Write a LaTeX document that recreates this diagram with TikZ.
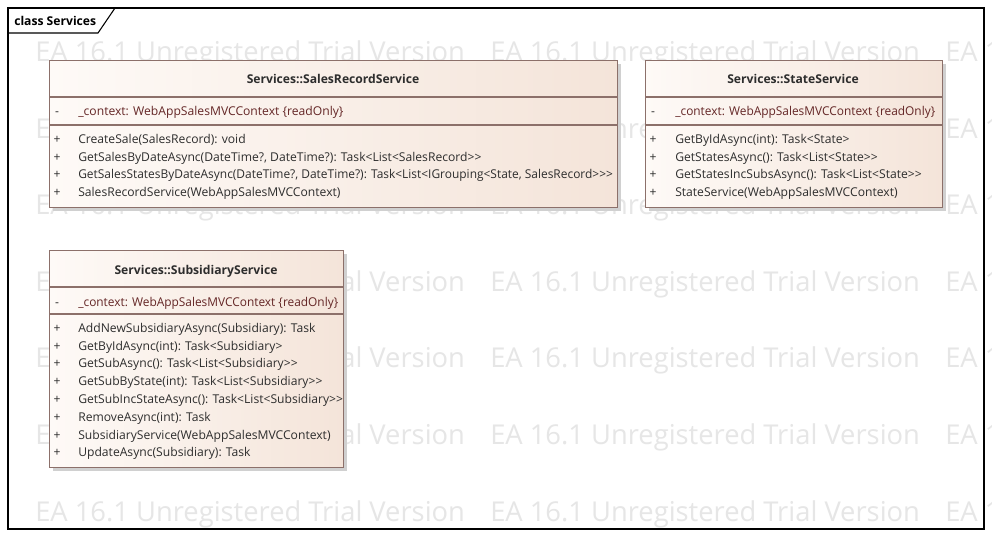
\documentclass[tikz,border=0pt]{standalone}
\usepackage{fontspec}
\setmainfont{Open Sans}
\definecolor{boxline}{RGB}{140,112,106}
\definecolor{fillL}{RGB}{254,250,247}
\definecolor{fillR}{RGB}{244,228,217}
\definecolor{shadowc}{RGB}{208,208,208}
\definecolor{attrc}{RGB}{100,38,38}
\definecolor{opc}{RGB}{45,45,45}
\definecolor{wmark}{RGB}{230,230,230}
\newcommand{\tf}{\fontsize{9.1pt}{10pt}\selectfont}
\tikzset{
  px/.style={x=0.75pt,y=-0.75pt},
  wm/.style={anchor=base west,inner sep=0pt,text=wmark,font=\fontsize{20.5pt}{21pt}\selectfont},
  classbox/.style={draw=boxline,line width=0.9pt,left color=fillL,right color=fillR,shading angle=90,inner sep=0pt,anchor=north west},
  shadowbox/.style={fill=shadowc,draw=none,inner sep=0pt,anchor=north west},
  hdr/.style={anchor=base,inner sep=0pt,text=opc,font=\tf\bfseries},
  attr/.style={anchor=base west,inner sep=0pt,text=attrc,font=\tf},
  oper/.style={anchor=base west,inner sep=0pt,text=opc,font=\tf},
  vis/.style={anchor=base,inner sep=0pt,text=opc,font=\tf},
  sep/.style={draw=boxline,line width=0.9pt},
  frame/.style={draw=black,line width=0.8pt}
}
\begin{document}
\begin{tikzpicture}[px]
\useasboundingbox (0,0) rectangle (992,537);
\fill[white] (0,0) rectangle (992,537);
% watermark
\begin{scope}
\clip (0,0) rectangle (992,537);
\foreach \yy in {61,138,214,291,367,444,521}{
  \foreach \xx in {35,490,945}{
    \node[wm] at (\xx,\yy) {EA 16.1 Unregistered Trial Version};
  }
}
\end{scope}
% frame
\draw[frame] (8,8) rectangle (984,529);
\draw[frame] (8,33) -- (98,33) -- (115,8);
\node[anchor=base west,inner sep=0pt,font=\tf\bfseries] (title) at (14,25) {class Services};

% ---------- SalesRecordService ----------
\node[shadowbox,minimum width=568*0.75pt,minimum height=147*0.75pt] (srsS) at (53,64) {};
\node[classbox,minimum width=568*0.75pt,minimum height=147*0.75pt] (srs) at (49,60) {};
\draw[sep] (49,97) -- (617,97);
\draw[sep] (49,125) -- (617,125);
\node[hdr] (srsH) at (333,83) {Services::SalesRecordService};
\node[vis] at (57,115) {-};
\node[attr] (srsA) at (78,115) {\_context: WebAppSalesMVCContext \{readOnly\}};
\node[vis] at (57,143) {+};
\node[oper] (srs1) at (78,143) {CreateSale(SalesRecord): void};
\node[vis] at (57,161) {+};
\node[oper] (srs2) at (78,161) {GetSalesByDateAsync(DateTime?, DateTime?): Task<List<SalesRecord>{}>};
\node[vis] at (57,178) {+};
\node[oper] (srs3) at (78,178) {\scalebox{0.985}[1]{GetSalesStatesByDateAsync(DateTime?, DateTime?): Task<List<IGrouping<State, SalesRecord>{}>{}>}};
\node[vis] at (57,196) {+};
\node[oper] (srs4) at (78,196) {SalesRecordService(WebAppSalesMVCContext)};

% ---------- StateService ----------
\node[shadowbox,minimum width=297*0.75pt,minimum height=147*0.75pt] (ssS) at (649,64) {};
\node[classbox,minimum width=297*0.75pt,minimum height=147*0.75pt] (ss) at (645,60) {};
\draw[sep] (645,97) -- (942,97);
\draw[sep] (645,125) -- (942,125);
\node[hdr] (ssH) at (793,83) {Services::StateService};
\node[vis] at (653,115) {-};
\node[attr] (ssA) at (675,115) {\scalebox{0.98}[1]{\_context: WebAppSalesMVCContext \{readOnly\}}};
\node[vis] at (653,143) {+};
\node[oper] (ss1) at (675,143) {GetByIdAsync(int): Task<State>};
\node[vis] at (653,161) {+};
\node[oper] (ss2) at (675,161) {GetStatesAsync(): Task<List<State>{}>};
\node[vis] at (653,178) {+};
\node[oper] (ss3) at (675,178) {GetStatesIncSubsAsync(): Task<List<State>{}>};
\node[vis] at (653,196) {+};
\node[oper] (ss4) at (675,196) {StateService(WebAppSalesMVCContext)};

% ---------- SubsidiaryService ----------
\node[shadowbox,minimum width=294*0.75pt,minimum height=217*0.75pt] (subS) at (53,254) {};
\node[classbox,minimum width=294*0.75pt,minimum height=217*0.75pt] (sub) at (49,250) {};
\draw[sep] (49,287) -- (343,287);
\draw[sep] (49,314) -- (343,314);
\node[hdr] (subH) at (196,274) {Services::SubsidiaryService};
\node[vis] at (57,306) {-};
\node[attr] (subA) at (78,306) {\scalebox{0.98}[1]{\_context: WebAppSalesMVCContext \{readOnly\}}};
\node[vis] at (57,332) {+};
\node[oper] (sub1) at (78,332) {AddNewSubsidiaryAsync(Subsidiary): Task};
\node[vis] at (57,350) {+};
\node[oper] (sub2) at (78,350) {GetByIdAsync(int): Task<Subsidiary>};
\node[vis] at (57,367) {+};
\node[oper] (sub3) at (78,367) {GetSubAsync(): Task<List<Subsidiary>{}>};
\node[vis] at (57,385) {+};
\node[oper] (sub4) at (78,385) {GetSubByState(int): Task<List<Subsidiary>{}>};
\node[vis] at (57,403) {+};
\node[oper] (sub5) at (78,403) {GetSubIncStateAsync(): Task<List<Subsidiary>{}>};
\node[vis] at (57,421) {+};
\node[oper] (sub6) at (78,421) {RemoveAsync(int): Task};
\node[vis] at (57,439) {+};
\node[oper] (sub7) at (78,439) {SubsidiaryService(WebAppSalesMVCContext)};
\node[vis] at (57,456) {+};
\node[oper] (sub8) at (78,456) {UpdateAsync(Subsidiary): Task};
\end{tikzpicture}
\end{document}
